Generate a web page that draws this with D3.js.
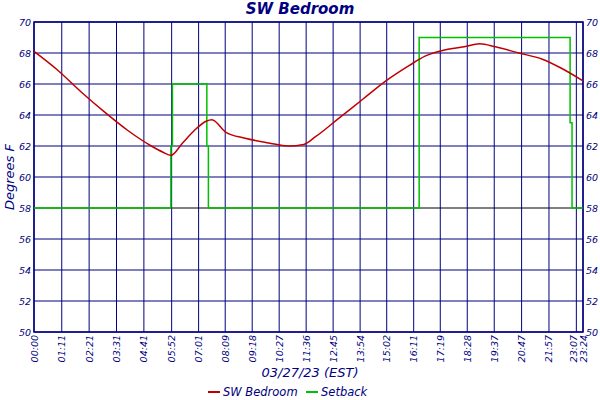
<!DOCTYPE html>
<html><head><meta charset="utf-8">
<script src="https://cdn.jsdelivr.net/npm/d3@7"></script>
<style>body{margin:0;background:#fff}text{font-family:"DejaVu Sans";font-style:italic;fill:#000080}</style>
</head><body><svg id="c" width="600" height="400"></svg>
<script>
// minutes since midnight
const tickMinutes = [0, 71, 141, 211, 281, 352, 421, 489, 558, 627, 696, 765, 834, 902, 971, 1039, 1108, 1177, 1247, 1317, 1387, 1404];
const tickLabels = ["00:00","01:11","02:21","03:31","04:41","05:52","07:01","08:09","09:18","10:27","11:36","12:45","13:54","15:02","16:11","17:19","18:28","19:37","20:47","21:57","23:07","23:24"];
const yTicks = [50, 52, 54, 56, 58, 60, 62, 64, 66, 68, 70];

const tempTime = [0, 60, 120, 180, 240, 300, 330, 350, 380, 410, 440, 455, 490, 540, 600, 650, 690, 720, 780, 840, 900, 960, 1000, 1050, 1100, 1140, 1180, 1240, 1300, 1350, 1404];
const tempVal  = [68.1, 66.9, 65.5, 64.2, 63.0, 62.0, 61.6, 61.4, 62.2, 63.0, 63.6, 63.7, 62.9, 62.5, 62.2, 62.0, 62.1, 62.6, 63.8, 65.0, 66.2, 67.2, 67.8, 68.2, 68.4, 68.6, 68.4, 68.0, 67.6, 67.0, 66.2];

const setTime = [0, 350, 354, 442, 446, 985, 1371, 1376, 1404];
const setVal  = [58, 62, 66, 62, 58, 69, 63.5, 58, 58];

const svg = d3.select("#c");
const x = d3.scaleLinear().domain([0, 1404]).range([34, 583]);
const y = d3.scaleLinear().domain([50, 70]).range([332, 22]);

// grid
svg.append("g").selectAll("line").data(tickMinutes).enter().append("line")
  .attr("x1", d => x(d)).attr("x2", d => x(d)).attr("y1", y(70)).attr("y2", y(50))
  .attr("stroke", "#000080").attr("stroke-width", 1);
svg.append("g").selectAll("line").data(yTicks).enter().append("line")
  .attr("x1", x(0)).attr("x2", x(1404)).attr("y1", d => y(d)).attr("y2", d => y(d))
  .attr("stroke", d => d == 58 ? "#000" : "#000080").attr("stroke-width", 1);
svg.append("rect").attr("x", x(0)).attr("y", y(70)).attr("width", x(1404) - x(0)).attr("height", y(50) - y(70))
  .attr("fill", "none").attr("stroke", "#000080").attr("stroke-width", 1.5);

// y labels both sides
svg.append("g").selectAll("text").data(yTicks).enter().append("text")
  .attr("x", x(0) - 3).attr("y", d => y(d) + 4).attr("text-anchor", "end").attr("font-size", 9.5).text(d => d);
svg.append("g").selectAll("text").data(yTicks).enter().append("text")
  .attr("x", x(1404) + 3).attr("y", d => y(d) + 4).attr("font-size", 9.5).text(d => d);

// x labels
svg.append("g").selectAll("text").data(tickMinutes).enter().append("text")
  .attr("transform", (d, i) => "translate(" + (x(d) + 3.5 - (i == 20 ? 3 : 0)) + "," + (y(50) + 3) + ")rotate(-90)")
  .attr("text-anchor", "end").attr("font-size", 9.5).text((d, i) => tickLabels[i]);

const line = d3.line().x(d => x(d[0])).y(d => y(d[1])).curve(d3.curveStepAfter);
svg.append("path").datum(setTime.map((t, i) => [t, setVal[i]]))
  .attr("d", line).attr("fill", "none").attr("stroke", "#00c000").attr("stroke-width", 1.5);
svg.append("path").datum(tempTime.map((t, i) => [t, tempVal[i]]))
  .attr("d", d3.line().x(d => x(d[0])).y(d => y(d[1])).curve(d3.curveMonotoneX))
  .attr("fill", "none").attr("stroke", "#c00000").attr("stroke-width", 1.5);

svg.append("text").attr("x", 300).attr("y", 14).attr("text-anchor", "middle")
  .attr("font-size", 15).attr("font-weight", "bold").text("SW Bedroom");
svg.append("text").attr("transform", "translate(14,177)rotate(-90)").attr("text-anchor", "middle")
  .attr("font-size", 13).text("Degrees F");
svg.append("text").attr("x", 310).attr("y", 377).attr("text-anchor", "middle").attr("font-size", 13).text("03/27/23 (EST)");

const legend = [["SW Bedroom", "#c00000", 208], ["Setback", "#00c000", 306]];
legend.forEach(l => {
  svg.append("line").attr("x1", l[2]).attr("x2", l[2] + 12).attr("y1", 392).attr("y2", 392).attr("stroke", l[1]).attr("stroke-width", 2);
  svg.append("text").attr("x", l[2] + 15).attr("y", 396).attr("font-size", 11.5).text(l[0]);
});
</script></body></html>
